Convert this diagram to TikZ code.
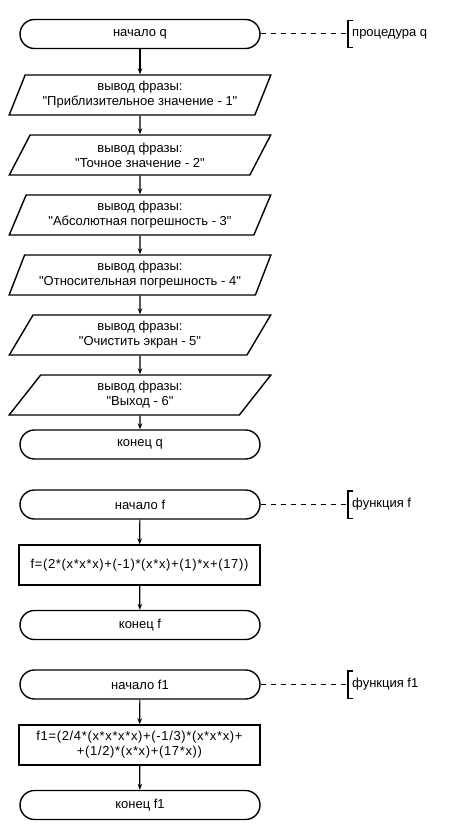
\documentclass[tikz,border=0pt]{standalone}
\usepackage{fontspec}
\setmainfont{Liberation Sans}[Ligatures=TeXOff]
\usetikzlibrary{shapes.geometric,arrows.meta}
\begin{document}
\begin{tikzpicture}[x=1pt,y=-1pt,
  every node/.style={font=\fontsize{13}{15}\selectfont, align=center, inner sep=0pt},
  term/.style={draw, line width=1.4pt, rounded corners=14.5pt, minimum width=240, minimum height=29},
  iobox/.style={draw, line width=1.4pt, trapezium, trapezium left angle=63.43, trapezium right angle=116.57, trapezium stretches=true, minimum width=262, minimum height=40},
  procbox/.style={draw, line width=1.4pt, minimum width=241, minimum height=40, font=\fontsize{13}{15}\selectfont\addfontfeature{LetterSpace=5}},
  note/.style={anchor=west, minimum height=27, inner xsep=4pt},
  flow/.style={line width=1.2pt, -{Stealth[length=6pt,width=4.5pt]}},
  link/.style={line width=1pt, dash pattern=on 5pt off 5pt}
]
\useasboundingbox (0,0) rectangle (470,840);

% procedure q
\node[term] (sq) at (140,34) {начало q};
\node[iobox] (p1) at (140,95) {вывод фразы:\\"Приблизительное значение - 1"};
\node[iobox] (p2) at (140,155) {вывод фразы:\\"Точное значение - 2"};
\node[iobox] (p3) at (140,215) {вывод фразы:\\"Абсолютная погрешность - 3"};
\node[iobox] (p4) at (140,275) {вывод фразы:\\"Относительная погрешность - 4"};
\node[iobox] (p5) at (140,335) {вывод фразы:\\"Очистить экран - 5"};
\node[iobox] (p6) at (140,395) {вывод фразы:\\"Выход - 6"};
\node[term] (eq) at (140,444.5) {конец q};
\draw[flow] (sq) -- (p1);
\draw[flow] (p1) -- (p2);
\draw[flow] (p2) -- (p3);
\draw[flow] (p3) -- (p4);
\draw[flow] (p4) -- (p5);
\draw[flow] (p5) -- (p6);
\draw[flow] (p6) -- (eq);
\node[note] (nq) at (348,34) {процедура q};

% function f
\node[term] (sf) at (140,504.5) {начало f};
\node[procbox] (cf) at (139.5,565) {f=(2*(x*x*x)+(-1)*(x*x)+(1)*x+(17))};
\node[term] (ef) at (140,625) {конец f};
\draw[flow] (sf) -- (cf);
\draw[flow] (cf) -- (ef);
\node[note] (nf) at (348,504.5) {функция f};

% function f1
\node[term] (sf1) at (140,684.5) {начало f1};
\node[procbox] (cf1) at (139.5,745) {f1=(2/4*(x*x*x*x)+(-1/3)*(x*x*x)+\\+(1/2)*(x*x)+(17*x))};
\node[term] (ef1) at (140,805) {конец f1};
\draw[flow] (sf1) -- (cf1);
\draw[flow] (cf1) -- (ef1);
\node[note] (nf1) at (348,684.5) {функция f1};

% annotations
\foreach \s/\n in {sq/nq, sf/nf, sf1/nf1}{
  \draw[link] (\s.east) -- (\n.west);
  \draw[line width=1.4pt] ([xshift=5pt]\n.north west) -- (\n.north west) -- (\n.south west) -- ([xshift=5pt]\n.south west);
}
\end{tikzpicture}
\end{document}
